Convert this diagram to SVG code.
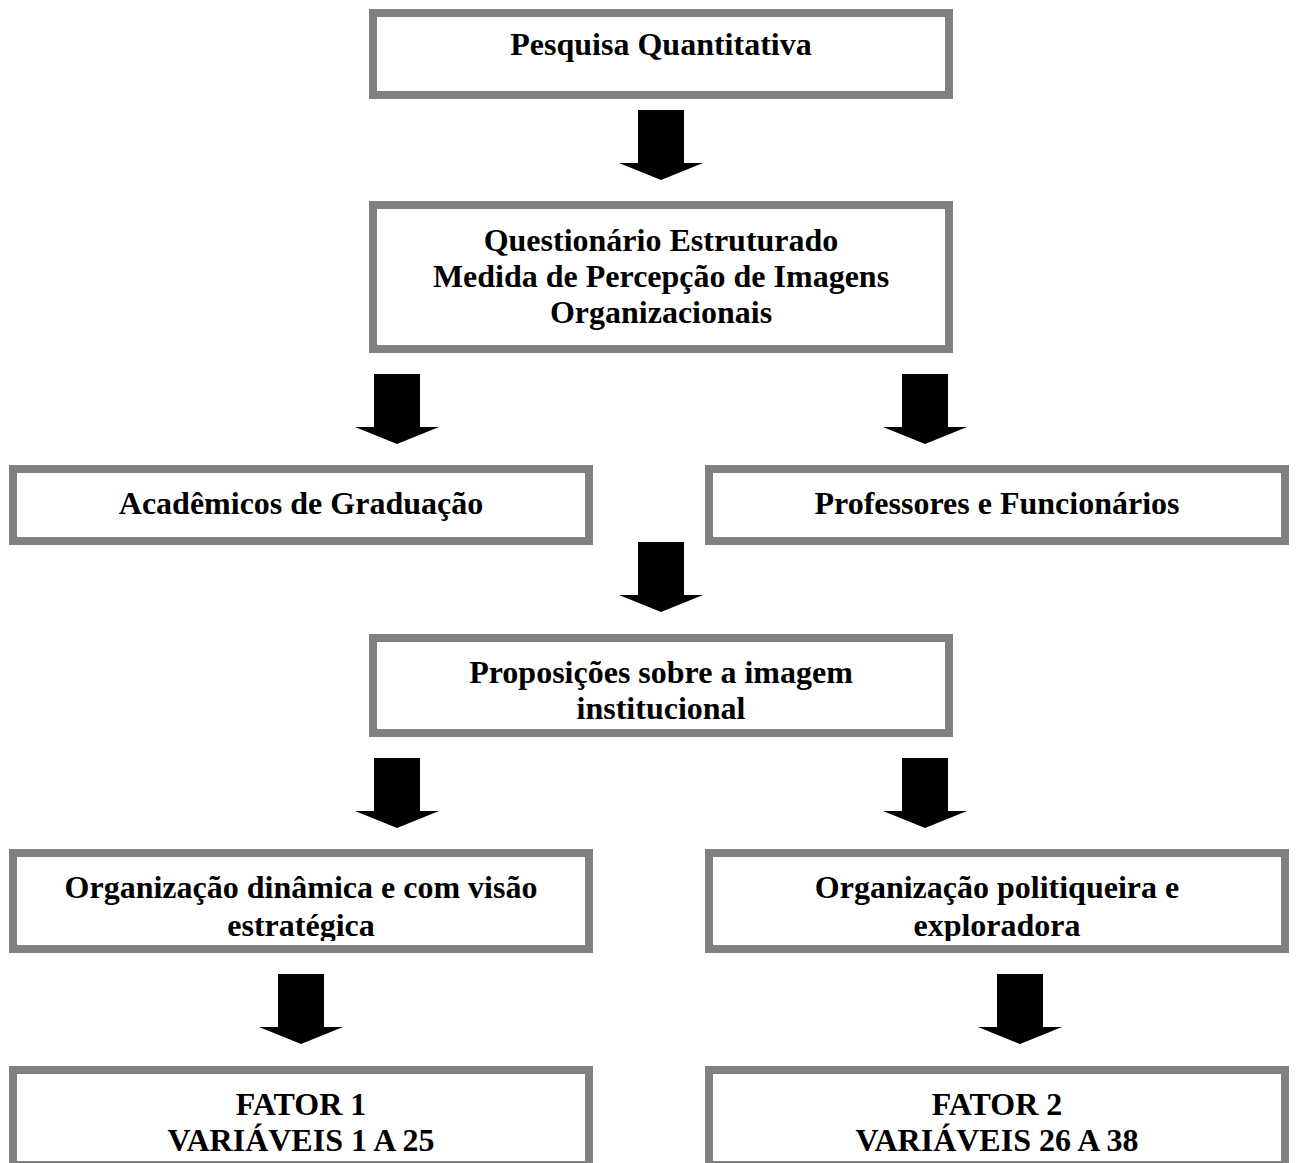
<svg xmlns="http://www.w3.org/2000/svg" xmlns:xlink="http://www.w3.org/1999/xlink" width="1296" height="1163" viewBox="0 0 1296 1163">
<style>
.box{fill:#ffffff;stroke:#808080;stroke-width:8}
.t{font-family:"Liberation Serif","Times New Roman",serif;font-weight:bold;font-size:32px;fill:#000;text-anchor:middle}
.arrow{fill:#000}
</style>
<defs>
<path id="arr" d="M-23,0 H23 V53 H42 L0,70 L-42,53 H-23 Z"/>
<clipPath id="c5l"><rect x="17" y="857" width="568" height="84"/></clipPath>
<clipPath id="c5r"><rect x="713" y="857" width="568" height="84"/></clipPath>
</defs>
<rect width="1296" height="1163" fill="#ffffff"/>
<g id="n1"><rect class="box" x="373" y="13" width="576" height="82"/><text class="t" x="661" y="55">Pesquisa Quantitativa</text></g>
<g id="n2"><rect class="box" x="373" y="205" width="576" height="144"/>
<text class="t" x="661" y="251">Questionário Estruturado</text>
<text class="t" x="661" y="287">Medida de Percepção de Imagens</text>
<text class="t" x="661" y="323">Organizacionais</text></g>
<g id="n3"><rect class="box" x="13" y="469" width="576" height="72"/><text class="t" x="301" y="514">Acadêmicos de Graduação</text></g>
<g id="n4"><rect class="box" x="709" y="469" width="576" height="72"/><text class="t" x="997" y="514">Professores e Funcionários</text></g>
<g id="n5"><rect class="box" x="373" y="638" width="576" height="95"/>
<text class="t" x="661" y="683">Proposições sobre a imagem</text>
<text class="t" x="661" y="719">institucional</text></g>
<g id="n6"><rect class="box" x="13" y="853" width="576" height="96"/>
<g clip-path="url(#c5l)"><text class="t" x="301" y="898">Organização dinâmica e com visão</text>
<text class="t" x="301" y="936">estratégica</text></g></g>
<g id="n7"><rect class="box" x="709" y="853" width="576" height="96"/>
<g clip-path="url(#c5r)"><text class="t" x="997" y="898">Organização politiqueira e</text>
<text class="t" x="997" y="936">exploradora</text></g></g>
<g id="n8"><rect class="box" x="13" y="1070" width="576" height="95"/>
<text class="t" x="301" y="1115">FATOR 1</text>
<text class="t" x="301" y="1151">VARIÁVEIS 1 A 25</text></g>
<g id="n9"><rect class="box" x="709" y="1070" width="576" height="95"/>
<text class="t" x="997" y="1115">FATOR 2</text>
<text class="t" x="997" y="1151">VARIÁVEIS 26 A 38</text></g>
<g id="connectors" class="arrow">
<use xlink:href="#arr" href="#arr" transform="translate(661,110)"/>
<use xlink:href="#arr" href="#arr" transform="translate(397,374)"/>
<use xlink:href="#arr" href="#arr" transform="translate(925,374)"/>
<use xlink:href="#arr" href="#arr" transform="translate(661,542)"/>
<use xlink:href="#arr" href="#arr" transform="translate(397,758)"/>
<use xlink:href="#arr" href="#arr" transform="translate(925,758)"/>
<use xlink:href="#arr" href="#arr" transform="translate(301,974)"/>
<use xlink:href="#arr" href="#arr" transform="translate(1020,974)"/>
</g>
</svg>
